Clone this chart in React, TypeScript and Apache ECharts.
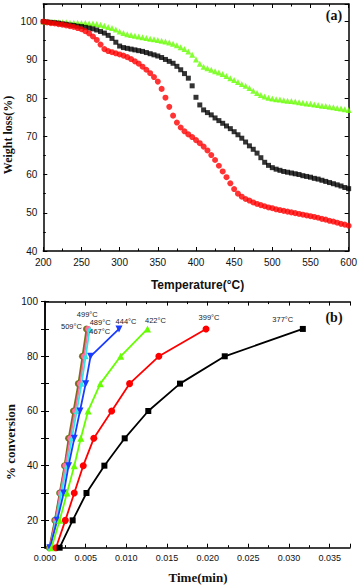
import React, { useEffect, useRef } from 'react';
import * as echarts from 'echarts';

// ---------- (a) TGA data ----------
const temperatures = [
  200, 205, 210, 215, 220, 225, 230, 235, 240, 245, 250, 255, 260, 265, 270, 275, 280, 285, 290, 295,
  300, 305, 310, 315, 320, 325, 330, 335, 340, 345, 350, 355, 360, 365, 370, 375, 380, 385, 390, 395,
  400, 405, 410, 415, 420, 425, 430, 435, 440, 445, 450, 455, 460, 465, 470, 475, 480, 485, 490, 495,
  500, 505, 510, 515, 520, 525, 530, 535, 540, 545, 550, 555, 560, 565, 570, 575, 580, 585, 590, 595, 600,
];
const weightBlack = [
  100, 99.9, 99.8, 99.7, 99.6, 99.4, 99.3, 99.1, 99.0, 98.8, 98.7, 98.5, 98.3, 98.1, 97.8, 97.4, 97.0, 96.4, 95.6, 94.6,
  93.6, 93.2, 93.0, 92.8, 92.6, 92.4, 92.2, 91.9, 91.6, 91.3, 91.0, 90.6, 90.1, 89.6, 89.1, 88.3, 87.4, 86.4, 85.2, 83.2,
  80.2, 78.2, 76.9, 76.2, 75.6, 74.8, 74.1, 73.4, 72.7, 72.0, 71.2, 70.4, 69.5, 68.5, 67.5, 66.6, 65.6, 64.4, 63.2, 62.4,
  61.8, 61.4, 61.1, 60.8, 60.6, 60.4, 60.2, 60.0, 59.7, 59.5, 59.3, 59.0, 58.8, 58.5, 58.2, 57.9, 57.6, 57.3, 57.0, 56.6, 56.3,
];
const weightRed = [
  100, 99.8, 99.6, 99.5, 99.3, 99.2, 99.0, 98.8, 98.6, 98.3, 98.0, 97.5, 96.9, 96.1, 95.2, 94.0, 92.8, 92.3, 92.0, 91.7,
  91.4, 91.1, 90.7, 90.2, 89.6, 89.0, 88.2, 87.4, 86.5, 85.5, 84.3, 82.4, 80.1, 77.7, 75.4, 73.6, 72.3, 71.3, 70.5, 69.8,
  69.0, 68.2, 67.3, 66.3, 65.1, 63.8, 62.3, 60.8, 59.3, 57.7, 56.2, 55.0, 54.2, 53.6, 53.2, 52.7, 52.3, 52.0, 51.7, 51.4,
  51.2, 50.9, 50.7, 50.5, 50.3, 50.1, 49.9, 49.7, 49.5, 49.3, 49.1, 48.9, 48.7, 48.4, 48.2, 47.9, 47.7, 47.4, 47.1, 46.9, 46.6,
];
const weightGreen = [
  100, 100, 99.9, 99.9, 99.8, 99.8, 99.8, 99.7, 99.7, 99.7, 99.6, 99.6, 99.5, 99.5, 99.4, 99.2, 98.9, 98.6, 98.3, 97.9,
  97.4, 97.0, 96.7, 96.5, 96.3, 96.1, 95.9, 95.7, 95.5, 95.4, 95.2, 95.0, 94.8, 94.5, 94.2, 93.8, 93.3, 92.8, 92.2, 91.3,
  90.1, 89.0, 88.2, 87.8, 87.4, 87.0, 86.7, 86.3, 85.8, 85.2, 84.7, 84.2, 83.7, 83.2, 82.6, 81.9, 81.3, 80.8, 80.4, 80.1,
  79.9, 79.7, 79.6, 79.4, 79.3, 79.2, 79.1, 78.9, 78.8, 78.6, 78.5, 78.3, 78.2, 78.0, 77.9, 77.7, 77.6, 77.4, 77.3, 77.1, 76.9,
];

// ---------- (b) conversion vs time ----------
const conversion = [10, 20, 30, 40, 50, 60, 70, 80, 90];
const time377 = [0.0018, 0.0034, 0.0051, 0.0073, 0.0098, 0.0127, 0.0166, 0.0221, 0.0317];
const time399 = [0.00135, 0.0025, 0.0036, 0.0047, 0.006, 0.0082, 0.0104, 0.014, 0.0198];
const time422 = [0.0008, 0.0018, 0.0027, 0.0036, 0.0044, 0.0053, 0.0068, 0.0093, 0.0126];
const time444 = [0.0006, 0.0015, 0.0023, 0.0029, 0.0036, 0.0043, 0.005, 0.0056, 0.0091];
const time467 = [0.00065, 0.0014, 0.002, 0.0027, 0.0033, 0.0039, 0.0045, 0.005, 0.0055];
const time489 = [0.0006, 0.0013, 0.0019, 0.0025, 0.0031, 0.0037, 0.0043, 0.0048, 0.0053];
const time499 = [0.00058, 0.00125, 0.00185, 0.00245, 0.003, 0.0036, 0.0042, 0.0047, 0.0052];
const time509 = [0.00053, 0.0012, 0.0018, 0.0024, 0.0029, 0.0035, 0.0041, 0.0046, 0.0051];
const tempLabels = ['377°C', '399°C', '422°C', '444°C', '467°C', '489°C', '499°C', '509°C'];

const SERIF = '"Liberation Serif", "Times New Roman", serif';
const SANS = '"Liberation Sans", Arial, sans-serif';

function buildOption() {
  const pair = (xs: number[], ys: number[]) => xs.map((x, i) => [x, ys[i]]);

  const frameAxis = {
    axisLine: { show: true, lineStyle: { color: '#000', width: 1.5 } },
    axisTick: { show: true, inside: true, length: 4, lineStyle: { color: '#000', width: 1 } },
    minorTick: { show: true, splitNumber: 2, length: 2.5, lineStyle: { color: '#000', width: 1 } },
    splitLine: { show: false },
  };
  const labelStyle = { color: '#111', fontFamily: SANS, fontSize: 10 };

  const bStyles = [
    { color: '#000000', symbol: 'rect', size: 6, rot: 0 },
    { color: '#ff0000', symbol: 'circle', size: 7, rot: 0 },
    { color: '#66ff00', symbol: 'triangle', size: 7, rot: 0 },
    { color: '#1a3cff', symbol: 'triangle', size: 7, rot: 180 },
    { color: '#33e6e6', symbol: 'triangle', size: 6, rot: 0 },
    { color: '#ff6f9f', symbol: 'circle', size: 6, rot: 0 },
    { color: '#a0522d', symbol: 'circle', size: 6, rot: 0 },
    { color: '#6b7f1e', symbol: 'circle', size: 7, rot: 0 },
  ];
  const bTimes = [time377, time399, time422, time444, time467, time489, time499, time509];
  const labelOffsets = [
    [-20, -9], [3, -11], [8, -8], [7, -7], [10, 2.5], [12, -6], [0, -14.5], [-15, -2],
  ];

  const bSeries = bTimes.map((times, s) => {
    const st = bStyles[s];
    const data: any[] = pair(times, conversion).map((v, i) => {
      if (i === times.length - 1) {
        return {
          value: v,
          label: {
            show: true,
            position: 'inside',
            offset: labelOffsets[s],
            formatter: tempLabels[s],
            color: '#222',
            fontFamily: SANS,
            fontSize: 7.5,
          },
        };
      }
      return { value: v };
    });
    return {
      type: 'line',
      xAxisIndex: 2,
      yAxisIndex: 2,
      data,
      symbol: st.symbol,
      symbolSize: st.size,
      symbolRotate: st.rot,
      lineStyle: { color: st.color, width: 1.8 },
      itemStyle: { color: st.color },
      label: { show: false },
      z: 10 - s,
    };
  });

  return {
    animation: false,
    backgroundColor: '#fff',
    grid: [
      { left: 43.3, right: 8.5, top: 4, height: 247, containLabel: false },
      { left: 45, right: 10, top: 301.6, height: 246.1, containLabel: false },
    ],
    xAxis: [
      {
        type: 'value', gridIndex: 0, min: 200, max: 600, interval: 50, position: 'bottom',
        ...frameAxis,
        axisLabel: { ...labelStyle, margin: 6 },
      },
      {
        type: 'value', gridIndex: 0, min: 200, max: 600, interval: 50, position: 'top',
        ...frameAxis,
        axisLabel: { show: false },
      },
      {
        type: 'value', gridIndex: 1, min: 0, max: 0.0375, interval: 0.005, position: 'bottom',
        ...frameAxis,
        axisLabel: {
          ...labelStyle, fontSize: 9, margin: 6, showMaxLabel: false,
          formatter: (v: number) => v.toFixed(3),
        },
      },
      {
        type: 'value', gridIndex: 1, min: 0, max: 0.0375, interval: 0.005, position: 'top',
        ...frameAxis,
        axisLabel: { show: false },
      },
    ],
    yAxis: [
      {
        type: 'value', gridIndex: 0, min: 40, max: 104.6, interval: 10, position: 'left',
        ...frameAxis,
        axisLabel: { ...labelStyle, margin: 6, showMaxLabel: false },
      },
      {
        type: 'value', gridIndex: 0, min: 40, max: 104.6, interval: 10, position: 'right',
        ...frameAxis,
        axisLabel: { show: false },
      },
      {
        type: 'value', gridIndex: 1, min: 10, max: 100, interval: 10, position: 'left',
        ...frameAxis,
        minorTick: { show: false },
        axisLabel: {
          ...labelStyle, margin: 7,
          formatter: (v: number) => (Math.round(v) % 20 === 0 ? String(Math.round(v)) : ''),
        },
      },
      {
        type: 'value', gridIndex: 1, min: 10, max: 100, interval: 10, position: 'right',
        ...frameAxis,
        minorTick: { show: false },
        axisLabel: { show: false },
      },
    ],
    series: [
      {
        type: 'scatter', xAxisIndex: 0, yAxisIndex: 0,
        data: pair(temperatures, weightGreen),
        symbol: 'triangle', symbolSize: 6,
        itemStyle: { color: '#66ff00' },
      },
      {
        type: 'scatter', xAxisIndex: 0, yAxisIndex: 0,
        data: pair(temperatures, weightBlack),
        symbol: 'rect', symbolSize: 5,
        itemStyle: { color: '#000' },
      },
      {
        type: 'scatter', xAxisIndex: 0, yAxisIndex: 0,
        data: pair(temperatures, weightRed),
        symbol: 'circle', symbolSize: 6,
        itemStyle: { color: '#ff0000' },
      },
      ...bSeries,
    ],
    graphic: [
      {
        type: 'text', x: 7.5, y: 135, rotation: Math.PI / 2,
        style: { text: 'Weight loss(%)', font: `bold 12px ${SERIF}`, fill: '#111', align: 'center', verticalAlign: 'middle' },
      },
      {
        type: 'text', x: 197.5, y: 285,
        style: { text: 'Temperature(°C)', font: `bold 12px ${SANS}`, fill: '#111', align: 'center', verticalAlign: 'middle' },
      },
      {
        type: 'text', x: 334, y: 15,
        style: { text: '(a)', font: `bold 14px ${SERIF}`, fill: '#111', align: 'center', verticalAlign: 'middle' },
      },
      {
        type: 'text', x: 10, y: 442, rotation: Math.PI / 2,
        style: { text: '% conversion', font: `bold 13px ${SERIF}`, fill: '#111', align: 'center', verticalAlign: 'middle' },
      },
      {
        type: 'text', x: 198, y: 577,
        style: { text: 'Time(min)', font: `bold 13px ${SERIF}`, fill: '#111', align: 'center', verticalAlign: 'middle' },
      },
      {
        type: 'text', x: 334, y: 317.5,
        style: { text: '(b)', font: `bold 14px ${SERIF}`, fill: '#111', align: 'center', verticalAlign: 'middle' },
      },
    ],
  };
}

export default function App() {
  const ref = useRef<HTMLDivElement>(null);
  useEffect(() => {
    if (!ref.current) return;
    const chart = echarts.init(ref.current, null, { renderer: 'svg' });
    chart.setOption(buildOption() as any);
    return () => chart.dispose();
  }, []);
  return (
    <div
      ref={ref}
      style={{ position: 'fixed', left: 0, top: 0, width: 360, height: 586, background: '#fff' }}
    />
  );
}
